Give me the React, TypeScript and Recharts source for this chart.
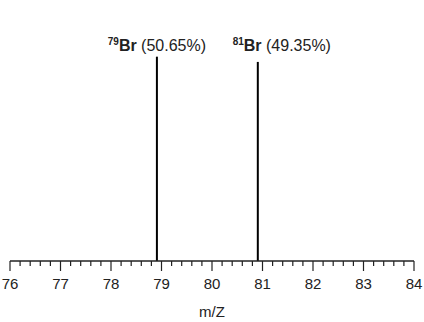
import React from 'react';
import { ComposedChart, Bar, XAxis, YAxis, LabelList } from 'recharts';

// isotope masses and relative abundance (%)
const isotopes = ['79', '81'];
const masses = [78.918, 80.916];
const abundances = [50.65, 49.35];

const majorTicks = [76, 77, 78, 79, 80, 81, 82, 83, 84];
const minorPerMajor = 5;

const data = masses.map((m, i) => ({ mz: m, pct: abundances[i], iso: isotopes[i] }));

const allTicks: number[] = [];
for (let i = 0; i < majorTicks.length - 1; i++) {
  for (let k = 0; k < minorPerMajor; k++) {
    allTicks.push(+(majorTicks[i] + (k * (majorTicks[i + 1] - majorTicks[i])) / minorPerMajor).toFixed(2));
  }
}
allTicks.push(majorTicks[majorTicks.length - 1]);

const INK = '#222';
const FONT = 'Arial, "Liberation Sans", Helvetica, sans-serif';
const LABEL_DX = [0, 24];

const AxisTick = (props: any) => {
  const { x, y, payload } = props;
  const major = majorTicks.includes(payload.value);
  return (
    <g>
      <line x1={x} x2={x} y1={y} y2={y + (major ? 10 : 5)} stroke={INK} strokeWidth={1.2} />
      {major && (
        <text x={x} y={y + 28} textAnchor="middle" fontSize={15} fill={INK} fontFamily={FONT}>
          {payload.value}
        </text>
      )}
    </g>
  );
};

const PeakLabel = (props: any) => {
  const { x, width, index } = props;
  const d = data[index];
  const cx = x + width / 2 + LABEL_DX[index];
  return (
    <text x={cx} y={51} textAnchor="middle" fill={INK} fontFamily={FONT} fontSize={16}>
      <tspan fontSize={10} fontWeight="bold" dy={-6}>{d.iso}</tspan>
      <tspan fontWeight="bold" dy={6}>Br</tspan>
      <tspan> ({d.pct.toFixed(2)}%)</tspan>
    </text>
  );
};

export default function App() {
  return (
    <div style={{ position: 'absolute', left: 0, top: 0, background: '#fff' }}>
      <ComposedChart
        width={424}
        height={322}
        data={data}
        margin={{ top: 0, right: 10, bottom: 0, left: 10 }}
      >
        <XAxis
          dataKey="mz"
          type="number"
          domain={[76, 84]}
          ticks={allTicks}
          interval={0}
          tickLine={false}
          tickSize={0}
          tickMargin={0}
          height={61}
          axisLine={{ stroke: INK, strokeWidth: 1.3 }}
          tick={<AxisTick />}
          allowDataOverflow
        />
        <YAxis
          type="number"
          domain={[0, 64.7]}
          width={0}
          tick={false}
          tickLine={false}
          axisLine={{ stroke: INK, strokeWidth: 1.3 }}
        />
        <Bar dataKey="pct" fill="#000" barSize={2} isAnimationActive={false}>
          <LabelList dataKey="pct" content={<PeakLabel />} />
        </Bar>
        <text x={212} y={317} textAnchor="middle" fontSize={15} fill={INK} fontFamily={FONT}>
          m/Z
        </text>
      </ComposedChart>
    </div>
  );
}
